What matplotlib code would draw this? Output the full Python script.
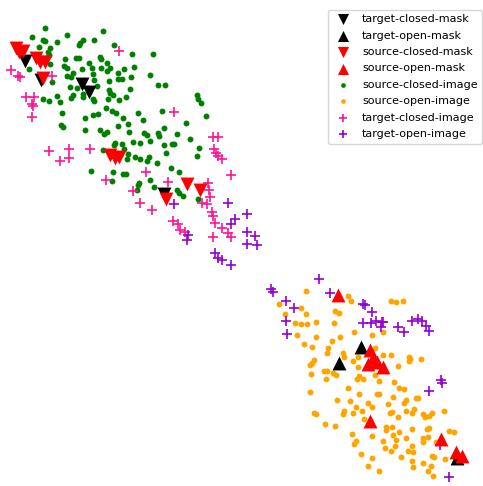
import matplotlib
matplotlib.use("Agg")
import matplotlib.pyplot as plt
import numpy as np

# embedding coordinates (image-like units)
tcm = [(25, 61), (41, 80), (82, 84), (89, 92), (164, 194)]
tom = [(361, 347), (339, 363), (457, 458)]
scm = [(16, 48), (19, 52), (23, 51), (36, 58), (40, 62), (45, 62), (43, 78),
       (110, 155), (115, 158), (119, 157), (166, 199), (187, 184), (200, 190)]
som = [(338, 295), (370, 350), (373, 358), (368, 364), (377, 362), (383, 367),
       (370, 421), (441, 439), (456, 452), (462, 456)]

sci = [(45, 28), (32, 37), (43, 40), (45, 41), (67, 35), (57, 42), (103, 31),
       (50, 48), (48, 52), (49, 55), (39, 47), (80, 43), (83, 40), (79, 45),
       (94, 40), (114, 45), (132, 54), (153, 54), (50, 64), (29, 69), (52, 82),
       (65, 59), (76, 58), (79, 58), (89, 63), (100, 57), (101, 59), (107, 63),
       (64, 66), (67, 68), (82, 69), (92, 68), (101, 68), (110, 68), (107, 71),
       (118, 73), (124, 69), (134, 67), (73, 73), (71, 77), (67, 76), (93, 74),
       (94, 80), (109, 81), (118, 79), (122, 79), (131, 77), (150, 75), (70, 87),
       (77, 88), (97, 86), (109, 90), (130, 89), (158, 85), (165, 85), (43, 99),
       (49, 101), (57, 96), (60, 102), (71, 98), (73, 95), (83, 97), (83, 94),
       (93, 99), (94, 101), (108, 99), (113, 95), (110, 93), (119, 100), (126, 97),
       (197, 95), (198, 99), (201, 103), (62, 113), (85, 118), (93, 115), (98, 114),
       (106, 108), (112, 111), (116, 113), (123, 118), (128, 124), (138, 113),
       (143, 120), (162, 111), (186, 123), (206, 116), (61, 125), (63, 127),
       (85, 130), (100, 130), (104, 134), (107, 132), (118, 126), (129, 132),
       (144, 133), (147, 135), (158, 133), (159, 136), (164, 128), (177, 134),
       (190, 139), (115, 143), (114, 145), (122, 144), (124, 149), (133, 142),
       (140, 143), (150, 141), (164, 145), (172, 144), (174, 144), (199, 148),
       (103, 150), (128, 154), (135, 157), (140, 159), (147, 161), (149, 157),
       (157, 163), (166, 153), (197, 156), (127, 159), (91, 171), (113, 172),
       (123, 174), (126, 174), (171, 168), (179, 172), (112, 181), (139, 183),
       (138, 185), (150, 180), (137, 190), (154, 187), (177, 190), (179, 193),
       (183, 196), (198, 199)]

soi = [(306, 291), (279, 304), (285, 314), (301, 308), (306, 314), (295, 323),
       (301, 324), (307, 324), (316, 322), (335, 311), (339, 313), (348, 296),
       (351, 301), (334, 323), (354, 332), (297, 335), (316, 337), (340, 337),
       (332, 341), (304, 344), (312, 347), (328, 348), (327, 353), (343, 353),
       (344, 357), (314, 360), (312, 363), (310, 365), (353, 361), (358, 357),
       (358, 367), (324, 371), (327, 371), (333, 373), (336, 375), (311, 374),
       (326, 379), (357, 379), (359, 376), (363, 379), (391, 301), (396, 302),
       (403, 301), (372, 335), (383, 332), (375, 348), (383, 355), (391, 355),
       (409, 357), (410, 359), (409, 361), (421, 359), (398, 366), (375, 375),
       (379, 381), (394, 382), (310, 392), (348, 388), (359, 394), (377, 394),
       (379, 394), (393, 397), (337, 400), (350, 401), (368, 403), (372, 407),
       (356, 407), (388, 404), (392, 412), (344, 411), (343, 414), (362, 411),
       (314, 413), (316, 414), (353, 413), (364, 419), (325, 424), (335, 426),
       (352, 434), (356, 441), (354, 444), (361, 454), (368, 466), (379, 471),
       (399, 388), (404, 389), (406, 400), (404, 403), (416, 398), (418, 398),
       (414, 409), (390, 413), (406, 411), (398, 417), (412, 413), (423, 414),
       (425, 417), (432, 413), (429, 416), (444, 411), (386, 427), (392, 427),
       (412, 429), (427, 429), (429, 428), (449, 431), (454, 432), (372, 436),
       (393, 435), (399, 432), (396, 440), (406, 438), (423, 438), (428, 437),
       (423, 442), (436, 442), (383, 441), (385, 448), (391, 451), (395, 446),
       (412, 446), (408, 451), (413, 452), (401, 457), (432, 456), (434, 457),
       (445, 459), (372, 458), (412, 461), (423, 463), (431, 466), (413, 467),
       (428, 471), (433, 476), (386, 430)]

tci = [(119, 51), (11, 70), (18, 76), (20, 77), (52, 76), (26, 97), (34, 97),
       (32, 104), (33, 106), (32, 117), (174, 112), (49, 151), (69, 149),
       (60, 161), (69, 158), (90, 149), (106, 180), (146, 172), (168, 182),
       (133, 191), (140, 203), (152, 210), (213, 137), (218, 137), (214, 149),
       (216, 153), (218, 156), (222, 159), (231, 175), (208, 183), (209, 190),
       (210, 197), (202, 203), (207, 204), (212, 212), (213, 216), (215, 223),
       (222, 228), (173, 221), (178, 224), (180, 230), (185, 232), (228, 233),
       (231, 237), (213, 237)]

toi = [(174, 204), (228, 203), (247, 214), (235, 219), (231, 224), (247, 232),
       (255, 236), (257, 245), (247, 244), (188, 235), (187, 240), (215, 253),
       (218, 258), (222, 260), (231, 265), (319, 279), (271, 289), (273, 292),
       (330, 293), (286, 301), (294, 308), (286, 321), (287, 334), (363, 304),
       (365, 305), (372, 312), (363, 323), (371, 323), (376, 321), (382, 322),
       (383, 322), (381, 327), (398, 327), (404, 332), (412, 321), (418, 319),
       (422, 321), (426, 326), (429, 331), (441, 380), (442, 383), (429, 391),
       (440, 445), (449, 477)]


def xy(pts):
    a = np.array(pts, dtype=float)
    return a[:, 0], a[:, 1]


fig = plt.figure(figsize=(4.83, 4.86), dpi=100)
ax = fig.add_axes([0, 0, 1, 1])

h = {}
h['source-closed-image'] = ax.scatter(*xy(sci), s=18, c='green', marker='o', zorder=2, linewidths=0)
h['source-open-image'] = ax.scatter(*xy(soi), s=18, c='orange', marker='o', zorder=2, linewidths=0)
h['target-closed-image'] = ax.scatter(*xy(tci), s=60, c='deeppink', marker='+', zorder=2, linewidths=1.2)
h['target-open-image'] = ax.scatter(*xy(toi), s=60, c='darkviolet', marker='+', zorder=2, linewidths=1.2)
h['target-closed-mask'] = ax.scatter(*xy(tcm), s=100, c='black', marker='v', zorder=3, linewidths=0)
h['target-open-mask'] = ax.scatter(*xy(tom), s=100, c='black', marker='^', zorder=3, linewidths=0)
h['source-closed-mask'] = ax.scatter(*xy(scm), s=100, c='red', marker='v', zorder=4, linewidths=0)
h['source-open-mask'] = ax.scatter(*xy(som), s=100, c='red', marker='^', zorder=4, linewidths=0)

order = ['target-closed-mask', 'target-open-mask', 'source-closed-mask',
         'source-open-mask', 'source-closed-image', 'source-open-image',
         'target-closed-image', 'target-open-image']
ax.legend([h[k] for k in order], order, loc='upper right',
          bbox_to_anchor=(0.998, 0.98), borderaxespad=0, fontsize=8,
          markerscale=0.8, handletextpad=0.7, labelspacing=0.58)

ax.set_xlim(0, 483)
ax.set_ylim(486, 0)
ax.axis('off')
fig.savefig('out.png', dpi=100)
